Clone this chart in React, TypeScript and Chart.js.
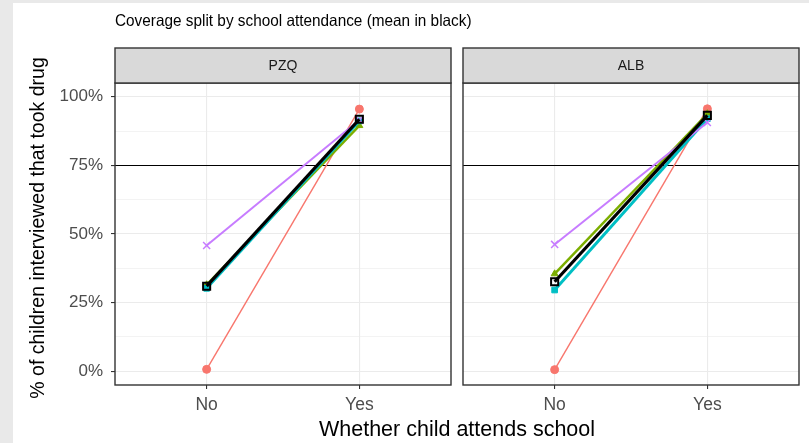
import React, { useEffect, useRef } from 'react';
import { Chart, registerables } from 'chart.js';
Chart.register(...registerables);

const categories = ['No', 'Yes'];
const panels = ['PZQ', 'ALB'];
const groupColors = ['#F8766D', '#7CAE00', '#00BFC4', '#C77CFF'];
const groupShapes = ['circle', 'triangle', 'rect', 'crossRot'];
const groupWidths = [1.4, 2.5, 3, 2];

const pzqRed = [0.7, 95.5];
const pzqGreen = [31.5, 89.5];
const pzqCyan = [30.2, 91.2];
const pzqPurple = [45.8, 91.5];
const pzqMean = [31.0, 91.8];

const albRed = [0.6, 95.6];
const albGreen = [35.5, 93.8];
const albCyan = [29.6, 92.0];
const albPurple = [46.2, 90.6];
const albMean = [32.6, 93.2];

const yTicks = [0, 25, 50, 75, 100];
const yMinor = [12.5, 37.5, 62.5, 87.5];
const refLine = 75;

const titleText = 'Coverage split by school attendance (mean in black)';
const yTitle = '% of children interviewed that took drug';
const xTitle = 'Whether child attends school';

const FONT = '"Liberation Sans", Arial, sans-serif';

function toPoints(vals: number[]) {
  return categories.map((_, i) => ({ x: i + 1, y: vals[i] }));
}

function makeDatasets(groups: number[][], mean: number[]) {
  const ds: any[] = [];
  ds.push({
    data: toPoints(mean),
    borderColor: '#000000',
    backgroundColor: 'rgba(0,0,0,0)',
    borderWidth: 3.2,
    pointStyle: 'rect',
    pointRadius: 5,
    pointBorderWidth: 2,
    pointBorderColor: '#000000',
    pointBackgroundColor: 'rgba(0,0,0,0)',
  });
  for (let g = groups.length - 1; g >= 0; g--) {
    ds.push({
      data: toPoints(groups[g]),
      borderColor: groupColors[g],
      backgroundColor: groupColors[g],
      borderWidth: groupWidths[g],
      pointStyle: groupShapes[g],
      pointRadius: groupShapes[g] === 'crossRot' ? 5 : 4,
      pointBorderWidth: groupShapes[g] === 'crossRot' ? 1.5 : 1,
      pointBorderColor: groupColors[g],
      pointBackgroundColor: groupColors[g],
    });
  }
  return ds;
}

function panelPlugin(label: string, drawTexts: boolean) {
  return {
    id: 'panel' + label,
    beforeDatasetsDraw(chart: any) {
      const { ctx, chartArea } = chart;
      const y = chart.scales.y.getPixelForValue(refLine);
      ctx.save();
      ctx.strokeStyle = '#000000';
      ctx.lineWidth = 1;
      ctx.beginPath();
      ctx.moveTo(chartArea.left, Math.round(y) + 0.5);
      ctx.lineTo(chartArea.right, Math.round(y) + 0.5);
      ctx.stroke();
      ctx.restore();
    },
    afterDraw(chart: any) {
      const { ctx, chartArea } = chart;
      const l = chartArea.left, r = chartArea.right, t = chartArea.top, b = chartArea.bottom;
      ctx.save();
      ctx.strokeStyle = '#333333';
      ctx.lineWidth = 1.4;
      ctx.strokeRect(l, t, r - l, b - t);
      ctx.fillStyle = '#d9d9d9';
      ctx.fillRect(l, 48, r - l, t - 48);
      ctx.strokeRect(l, 48, r - l, t - 48);
      ctx.fillStyle = '#1a1a1a';
      ctx.font = '14px ' + FONT;
      ctx.textAlign = 'center';
      ctx.textBaseline = 'middle';
      ctx.fillText(label, (l + r) / 2, (48 + t) / 2 + 0.5);
      if (drawTexts) {
        ctx.fillStyle = '#000000';
        ctx.font = '16.5px ' + FONT;
        ctx.textAlign = 'left';
        ctx.textBaseline = 'middle';
        ctx.save();
        ctx.translate(115, 21);
        ctx.scale(0.93, 1);
        ctx.fillText(titleText, 0, 0);
        ctx.restore();
        ctx.font = '21.5px ' + FONT;
        ctx.textAlign = 'center';
        ctx.fillText(xTitle, 457, 430);
        ctx.font = '19.5px ' + FONT;
        ctx.save();
        ctx.translate(39, 228);
        ctx.rotate(-Math.PI / 2);
        ctx.fillText(yTitle, 0, 0);
        ctx.restore();
      }
      ctx.restore();
    },
  };
}

function makeConfig(label: string, groups: number[][], mean: number[], left: boolean): any {
  return {
    type: 'line',
    data: { datasets: makeDatasets(groups, mean) },
    plugins: [panelPlugin(label, left)],
    options: {
      animation: false,
      responsive: false,
      maintainAspectRatio: false,
      layout: {
        padding: left
          ? { left: 0, top: 83, right: 809 - 451, bottom: 0 }
          : { left: 463, top: 83, right: 10, bottom: 0 },
      },
      plugins: { legend: { display: false }, tooltip: { enabled: false }, title: { display: false } },
      elements: { line: { tension: 0 } },
      scales: {
        x: {
          type: 'linear',
          min: 0.4,
          max: 2.6,
          afterBuildTicks: (s: any) => {
            s.ticks = categories.map((_, i) => ({ value: i + 1 }));
          },
          afterFit: (s: any) => {
            s.height = 443 - 385;
          },
          ticks: {
            callback: (v: number) => categories[Math.round(v) - 1] ?? '',
            color: '#4d4d4d',
            font: { family: FONT, size: 17.5 },
            padding: 6,
            maxRotation: 0,
            autoSkip: false,
          },
          grid: { color: '#ebebeb', lineWidth: 1.1, tickColor: '#333333', tickLength: 4, drawTicks: true },
          border: { display: false },
        },
        y: {
          type: 'linear',
          min: -5,
          max: 105,
          afterBuildTicks: (s: any) => {
            s.ticks = [...yTicks, ...yMinor].sort((a, b) => a - b).map((v) => ({ value: v }));
          },
          afterFit: (s: any) => {
            s.width = left ? 115 : 0;
          },
          ticks: {
            display: left,
            callback: (v: number) => (yTicks.includes(v) ? v + '%' : ''),
            color: '#4d4d4d',
            font: { family: FONT, size: 17 },
            padding: 8,
            autoSkip: false,
          },
          grid: {
            color: '#ebebeb',
            lineWidth: (c: any) => (c.tick && yTicks.includes(c.tick.value) ? 1.1 : 0.6),
            tickColor: (c: any) => (c.tick && yTicks.includes(c.tick.value) ? '#333333' : 'rgba(0,0,0,0)'),
            tickLength: 4,
            drawTicks: left,
          },
          border: { display: false },
        },
      },
    },
  };
}

export default function App() {
  const refA = useRef<HTMLCanvasElement>(null);
  const refB = useRef<HTMLCanvasElement>(null);
  useEffect(() => {
    const a = new Chart(refA.current!, makeConfig(panels[0], [pzqRed, pzqGreen, pzqCyan, pzqPurple], pzqMean, true));
    const b = new Chart(refB.current!, makeConfig(panels[1], [albRed, albGreen, albCyan, albPurple], albMean, false));
    return () => {
      a.destroy();
      b.destroy();
    };
  }, []);
  return (
    <div style={{ position: 'fixed', left: 0, top: 0, width: 809, height: 443, background: '#e9e9e9', overflow: 'hidden' }}>
      <div style={{ position: 'absolute', left: 13, top: 3, right: 0, bottom: 0, background: '#ffffff' }} />
      <canvas ref={refA} width={809} height={443} style={{ position: 'absolute', left: 0, top: 0 }} />
      <canvas ref={refB} width={809} height={443} style={{ position: 'absolute', left: 0, top: 0 }} />
    </div>
  );
}
